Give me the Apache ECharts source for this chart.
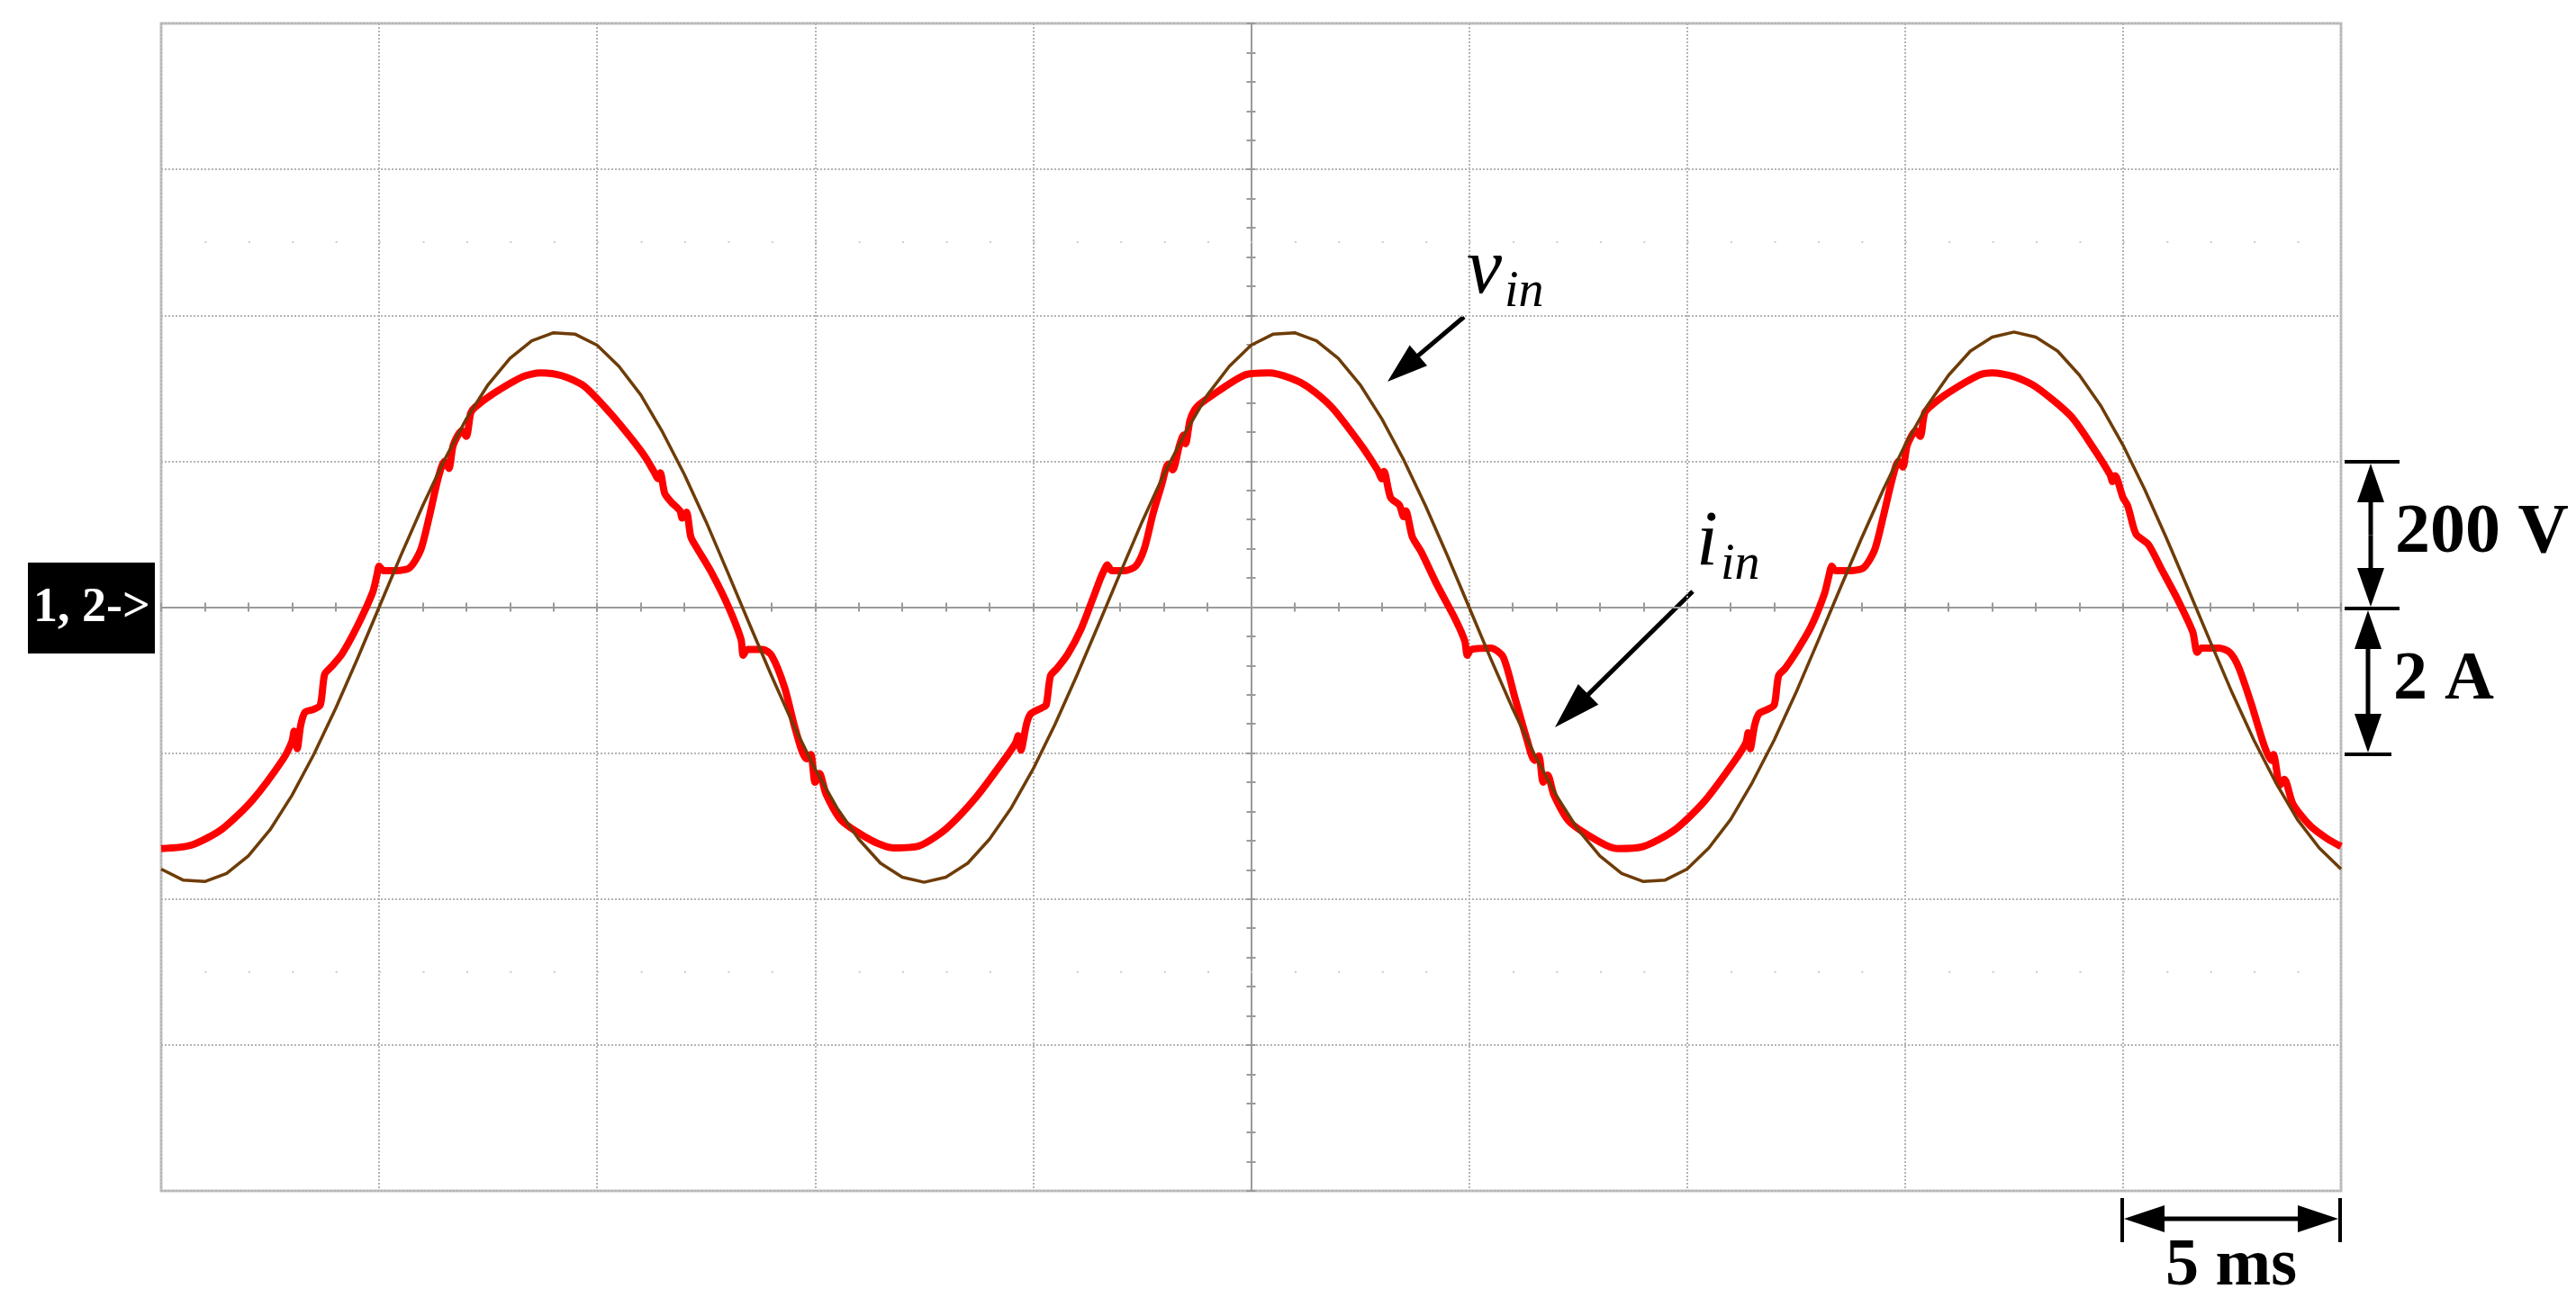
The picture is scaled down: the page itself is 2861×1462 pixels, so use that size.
<!DOCTYPE html>
<html>
<head>
<meta charset="utf-8">
<title>vin / iin</title>
<script src="https://cdn.jsdelivr.net/npm/echarts@6/dist/echarts.min.js"></script>
<style>
  html, body { margin: 0; padding: 0; background: #fff; }
  #chart { width: 2861px; height: 1462px; }
</style>
</head>
<body>
<div id="chart"></div>
<script>
// scope settings: 5 ms/div, 200 V/div (vin), 2 A/div (iin)
// time in ms from the left edge of the screen

// input voltage, every 0.5 ms from t = 0
const vinStepMs = 0.5
const vinVolts = [
  -359, -374, -376, -365, -341, -305, -258, -202, -139, -71,
  0, 71, 139, 202, 258, 305, 341, 365, 376, 374,
  359, 330, 291, 240, 182, 117, 47, -24, -94, -161,
  -222, -275, -318, -351, -370, -377, -370, -351, -318, -275,
  -222, -161, -94, -24, 47, 117, 182, 240, 291, 330,
  359, 374, 376, 365, 341, 305, 258, 202, 139, 71,
  0, -71, -139, -202, -258, -305, -341, -365, -376, -374,
  -359, -330, -291, -240, -182, -117, -47, 24, 94, 161,
  222, 275, 318, 351, 370, 377, 370, 351, 318, 275,
  222, 161, 94, 24, -47, -117, -182, -240, -291, -330,
  -359
]

// input current, one mains cycle per array
const iinCycle1 = [
  [0, -3.31], [0.7, -3.26], [1.4, -3.04], [2.1, -2.64], [2.8, -2.08], [3.0, -1.84], [3.05, -1.70], [3.12, -1.94],
  [3.2, -1.62], [3.3, -1.44], [3.5, -1.40], [3.65, -1.34], [3.75, -0.92], [3.9, -0.82], [4.15, -0.64], [4.5, -0.26],
  [4.85, 0.20], [4.95, 0.44], [5.0, 0.56], [5.1, 0.50], [5.4, 0.50], [5.7, 0.54], [5.95, 0.78], [6.15, 1.24],
  [6.35, 1.76], [6.5, 2.00], [6.6, 1.90], [6.7, 2.22], [6.9, 2.42], [7.0, 2.34], [7.1, 2.66], [7.2, 2.74],
  [7.6, 2.92], [8.3, 3.16], [8.7, 3.21], [9.2, 3.17], [9.7, 3.03], [10.3, 2.66], [10.8, 2.30], [11.1, 2.06],
  [11.3, 1.86], [11.4, 1.76], [11.45, 1.84], [11.55, 1.56], [11.7, 1.44], [11.9, 1.32], [11.95, 1.22], [12.05, 1.30],
  [12.15, 0.96], [12.3, 0.80], [12.6, 0.50], [13.0, 0.02], [13.3, -0.44], [13.35, -0.66], [13.45, -0.58], [13.8, -0.58],
  [14.0, -0.66], [14.3, -1.10], [14.55, -1.68], [14.8, -2.08], [14.9, -2.02], [15.0, -2.40], [15.1, -2.28], [15.25, -2.56],
  [15.6, -2.92], [16.3, -3.20]
]
const iinCycle2 = [
  [16.8, -3.30], [17.4, -3.27], [18.0, -3.04], [18.7, -2.60], [19.4, -2.04], [19.6, -1.86], [19.66, -1.76], [19.72, -1.96],
  [19.85, -1.60], [19.95, -1.46], [20.2, -1.38], [20.3, -1.34], [20.4, -0.94], [20.55, -0.84], [20.8, -0.64], [21.1, -0.30],
  [21.36, 0.10], [21.55, 0.40], [21.64, 0.52], [21.7, 0.58], [21.8, 0.50], [22.1, 0.50], [22.35, 0.56], [22.55, 0.80],
  [22.75, 1.28], [22.95, 1.68], [23.1, 1.96], [23.2, 1.88], [23.35, 2.20], [23.45, 2.36], [23.5, 2.24], [23.6, 2.56],
  [23.75, 2.74], [24.1, 2.90], [24.85, 3.18], [25.4, 3.21], [25.9, 3.14], [26.3, 3.02], [26.85, 2.74], [27.5, 2.24],
  [27.9, 1.88], [28.0, 1.76], [28.05, 1.86], [28.2, 1.50], [28.4, 1.40], [28.5, 1.24], [28.55, 1.32], [28.7, 0.96],
  [28.9, 0.76], [29.27, 0.30], [29.68, -0.16], [29.9, -0.46], [29.96, -0.66], [30.05, -0.58], [30.5, -0.56], [30.78, -0.68],
  [31.06, -1.26], [31.33, -1.82], [31.5, -2.10], [31.6, -2.04], [31.7, -2.40], [31.8, -2.30], [31.95, -2.58], [32.3, -2.94],
  [33.0, -3.22]
]
const iinCycle3 = [
  [33.4, -3.31], [34.0, -3.28], [34.7, -3.06], [35.4, -2.66], [36.1, -2.10], [36.35, -1.86], [36.4, -1.72], [36.45, -1.94],
  [36.55, -1.62], [36.65, -1.46], [36.85, -1.40], [37.0, -1.34], [37.1, -0.94], [37.25, -0.84], [37.5, -0.62], [37.85, -0.26],
  [38.15, 0.18], [38.25, 0.42], [38.32, 0.56], [38.4, 0.50], [38.75, 0.50], [39.05, 0.54], [39.3, 0.78], [39.5, 1.24],
  [39.7, 1.74], [39.85, 2.00], [39.95, 1.92], [40.05, 2.22], [40.25, 2.42], [40.35, 2.34], [40.45, 2.66], [40.6, 2.76],
  [41.0, 2.94], [41.7, 3.18], [42.0, 3.21], [42.5, 3.16], [43.0, 3.02], [43.8, 2.62], [44.3, 2.20], [44.7, 1.82],
  [44.76, 1.72], [44.82, 1.80], [45.0, 1.50], [45.1, 1.40], [45.15, 1.30], [45.3, 1.00], [45.58, 0.86], [45.9, 0.50],
  [46.24, 0.12], [46.6, -0.34], [46.7, -0.62], [46.8, -0.56], [47.2, -0.56], [47.45, -0.62], [47.65, -0.82], [47.94, -1.32],
  [48.24, -1.90], [48.4, -2.10], [48.45, -2.02], [48.6, -2.44], [48.7, -2.36], [48.9, -2.70], [49.3, -3.00], [49.7, -3.18],
  [50.0, -3.28]
]
const iinPoints = iinCycle1.concat(iinCycle2, iinCycle3)
const vinPoints = vinVolts.map((v, i) => [i * vinStepMs, v])

// faint graticule dot rows, 2.5 div above/below centre (in volts)
const dotRowVolts = [500, -500]

const SERIF = '"Liberation Serif", "Times New Roman", serif'
const AXIS_GREY = '#9a9a9a'
const tickStyle = { color: AXIS_GREY, width: 2 }

let myChart = echarts.init(document.getElementById('chart'), null, { renderer: 'canvas' })

// arrow from (x1,y1) to the tip (x2,y2)
function arrow(x1, y1, x2, y2, headLen, headHalf, lw) {
  let dx = x2 - x1, dy = y2 - y1
  let d = Math.hypot(dx, dy)
  let ux = dx / d, uy = dy / d
  let bx = x2 - ux * headLen, by = y2 - uy * headLen
  return [
    { type: 'line', shape: { x1: x1, y1: y1, x2: bx + ux * 2, y2: by + uy * 2 }, style: { stroke: '#000', lineWidth: lw } },
    {
      type: 'polygon',
      shape: { points: [[x2, y2], [bx - uy * headHalf, by + ux * headHalf], [bx + uy * headHalf, by - ux * headHalf]] },
      style: { fill: '#000' }
    }
  ]
}

// double-headed arrow
function dimArrow(x1, y1, x2, y2, headLen, headHalf, lw) {
  let mx = (x1 + x2) / 2, my = (y1 + y2) / 2
  return arrow(mx, my, x1, y1, headLen, headHalf, lw).concat(arrow(mx, my, x2, y2, headLen, headHalf, lw))
}

function bar(x1, y1, x2, y2) {
  return { type: 'line', shape: { x1: x1, y1: y1, x2: x2, y2: y2 }, style: { stroke: '#000', lineWidth: 4 } }
}

// text placed by its baseline
function label(x, baseline, str, size, weight, align, color) {
  return {
    type: 'text',
    style: {
      text: str, x: x, y: baseline - size * 0.34,
      font: weight + ' ' + size + 'px ' + SERIF,
      fill: color || '#000', align: align || 'left', verticalAlign: 'middle'
    }
  }
}

let annotations = [
  // channel marker
  { type: 'rect', shape: { x: 31, y: 625, width: 141, height: 101 }, style: { fill: '#000' } },
  label(102, 694, '1, 2->', 54, 'bold', 'center', '#fff'),
  // vin label + arrow
  label(1629, 332, 'v', 88, 'italic'),
  label(1671, 344, 'in', 56, 'italic'),
  ...arrow(1626, 352, 1541, 424, 45, 15, 5),
  // iin label + arrow
  label(1884, 634, 'i', 86, 'italic'),
  label(1911, 647, 'in', 56, 'italic'),
  ...arrow(1880, 657, 1727, 808, 52, 16, 5),
  // 200 V / 2 A scale
  bar(2604, 513, 2665, 513),
  bar(2604, 676, 2665, 676),
  bar(2604, 838, 2656, 838),
  ...dimArrow(2633, 515, 2633, 674, 43, 15, 5),
  ...dimArrow(2630, 678, 2630, 836, 43, 15, 5),
  label(2660, 619, '200 V', 78, 'bold'),
  label(2658, 782, '2 A', 76, 'bold'),
  // 5 ms scale
  bar(2357, 1331, 2357, 1380),
  bar(2599, 1331, 2599, 1380),
  ...dimArrow(2359, 1354, 2597, 1354, 45, 15, 5),
  label(2478, 1433, '5 ms', 74, 'bold', 'center')
]

let timeAxisBase = {
  type: 'value', min: 0, max: 50, interval: 5,
  axisLine: { show: true, onZero: true, onZeroAxisIndex: 0, lineStyle: { color: AXIS_GREY, width: 2 } },
  axisTick: { show: true, length: 5, lineStyle: tickStyle },
  minorTick: { show: true, splitNumber: 5, length: 5, lineStyle: tickStyle },
  axisLabel: { show: false }
}
let voltAxisBase = {
  type: 'value', min: -800, max: 800, interval: 200, offset: -1210.5,
  axisLine: { show: true, onZero: false, lineStyle: { color: AXIS_GREY, width: 2 } },
  axisTick: { show: true, length: 5, lineStyle: tickStyle },
  minorTick: { show: true, splitNumber: 5, length: 5, lineStyle: tickStyle },
  axisLabel: { show: false }
}

myChart.setOption({
  animation: false,
  backgroundColor: '#fff',
  grid: {
    left: 179, top: 26, right: 261, bottom: 139,
    show: true, borderColor: '#c2c2c2', borderWidth: 3, backgroundColor: 'transparent'
  },
  xAxis: [
    Object.assign({}, timeAxisBase, {
      position: 'bottom',
      splitLine: { show: true, lineStyle: { type: 'dotted', color: '#b4b4b4', width: 2 } }
    }),
    Object.assign({}, timeAxisBase, { position: 'top', splitLine: { show: false } })
  ],
  yAxis: [
    Object.assign({}, voltAxisBase, {
      position: 'left',
      splitLine: { show: true, lineStyle: { type: 'dotted', color: '#b4b4b4', width: 2 } }
    }),
    Object.assign({}, voltAxisBase, { position: 'right', splitLine: { show: false } }),
    { type: 'value', min: -8, max: 8, interval: 2, show: false, splitLine: { show: false } }
  ],
  series: [
    {
      name: 'iin', type: 'line', xAxisIndex: 0, yAxisIndex: 2,
      data: iinPoints, symbol: 'none', smooth: 0.25, z: 3,
      lineStyle: { color: '#ff0000', width: 8, join: 'round' }
    },
    {
      name: 'vin', type: 'line', xAxisIndex: 0, yAxisIndex: 0,
      data: vinPoints, symbol: 'none', z: 4,
      lineStyle: { color: '#6e3c08', width: 3.5, join: 'round' },
      markLine: {
        silent: true, symbol: 'none', z: 1, animation: false,
        label: { show: false },
        lineStyle: { type: [2, 46.42], color: '#cdcdcd', width: 2 },
        data: dotRowVolts.map(v => ({ yAxis: v }))
      }
    }
  ],
  graphic: { elements: annotations }
})
</script>
</body>
</html>
